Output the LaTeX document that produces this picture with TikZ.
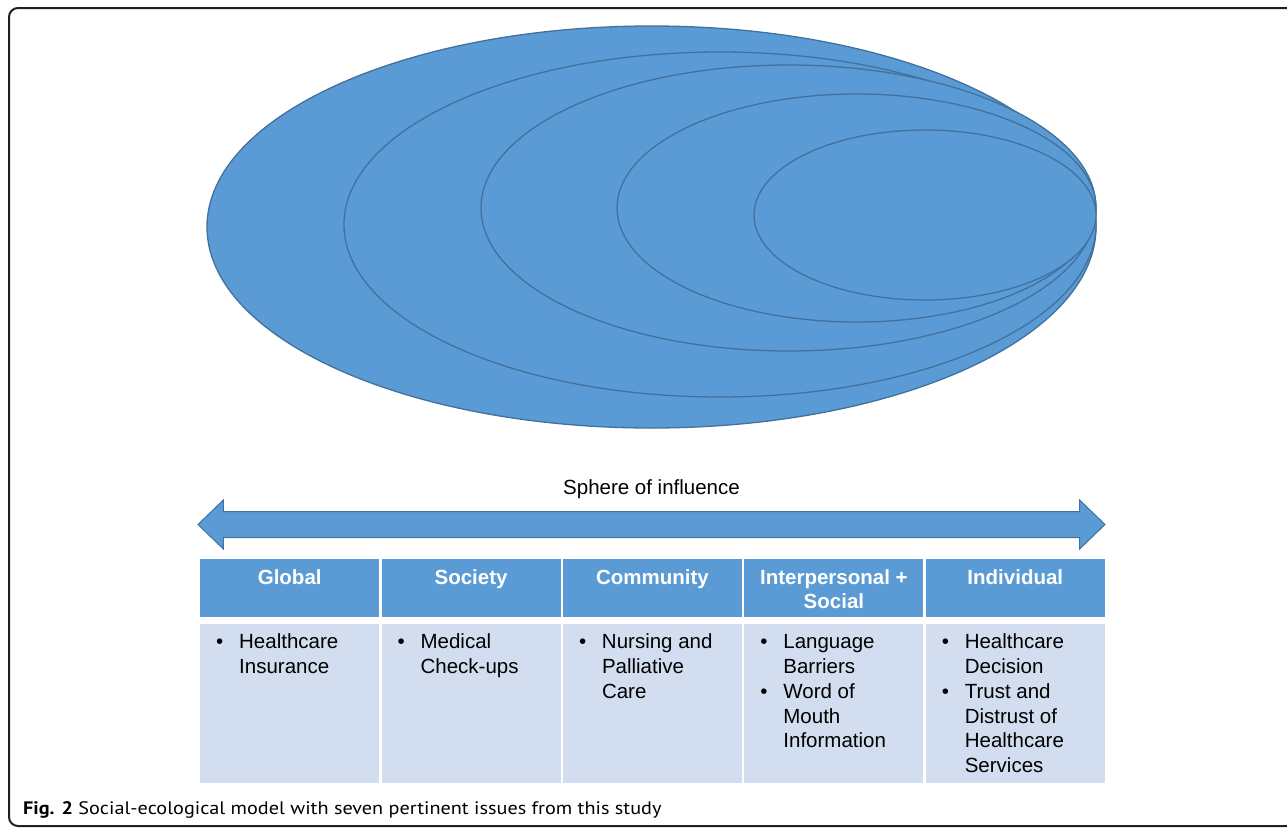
\documentclass[tikz,border=0pt]{standalone}
\usepackage{fontspec}
\setmainfont{Liberation Sans}
\newfontfamily\capfont{PT Sans}
\usetikzlibrary{shapes.geometric, shapes.arrows, positioning}

\definecolor{sebblue}{HTML}{5B9BD5}
\definecolor{sebedge}{HTML}{41719C}
\definecolor{sebpale}{HTML}{D2DEEF}
\definecolor{frameink}{HTML}{231F20}

\newcommand{\itm}[1]{\noindent\hangindent=23pt\hangafter=1\makebox[23pt][l]{\textbullet}#1\par}
\newcommand{\headtxt}[1]{\begin{minipage}[t][58pt][t]{171pt}\centering\rule{0pt}{25pt}#1\end{minipage}}
\newcommand{\bodytxt}[1]{\begin{minipage}[t][159pt][t]{147pt}\rule{0pt}{25pt}#1\end{minipage}}

\begin{document}
\begin{tikzpicture}[x=1pt, y=-1pt,
	ring/.style={ellipse, draw=sebedge, line width=1.3pt, fill=sebblue, inner sep=0pt},
	head/.style={fill=sebblue, text=white, font=\fontsize{20.5}{24}\selectfont\bfseries, inner xsep=4pt, inner ysep=0pt},
	body/.style={fill=sebpale, text=black, font=\fontsize{20.5}{24.8}\selectfont, inner xsep=16pt, inner ysep=0pt}]
	\useasboundingbox (0,0) rectangle (1287,828);
	\clip (0,0) rectangle (1287,828);
	\draw[frameink, line width=2pt, rounded corners=9pt] (9,8) rectangle (1330,826);

	% nested spheres
	\node[ring, minimum width=889, minimum height=402] (e1) at (651.5,227) {};
	\node[ring, minimum width=752, minimum height=345] (e2) at (720,224.5) {};
	\node[ring, minimum width=615, minimum height=286] (e3) at (788.5,208) {};
	\node[ring, minimum width=479, minimum height=228] (e4) at (856.5,208) {};
	\node[ring, minimum width=342, minimum height=170] (e5) at (925,215) {};

	\node[font=\fontsize{20.5}{24}\selectfont] (reachlabel) at (651.5,489) {Sphere of influence};
	\node[double arrow, fill=sebblue, draw=sebedge, line width=1pt, minimum height=907pt, minimum width=48pt,
		double arrow head extend=11.5pt, double arrow tip angle=88, inner xsep=0pt, inner ysep=12.5pt] (reach) at (651.5,524.5) {};

	% table
	\node[head, anchor=north west] (h1) at (200,559) {\headtxt{Global}};
	\node[head, right=2pt of h1] (h2) {\headtxt{Society}};
	\node[head, right=2pt of h2] (h3) {\headtxt{Community}};
	\node[head, right=2pt of h3] (h4) {\headtxt{Interpersonal +\\Social}};
	\node[head, right=2pt of h4] (h5) {\headtxt{Individual}};

	\node[body, below=6pt of h1] (b1) {\bodytxt{\itm{Healthcare\\Insurance}}};
	\node[body, below=6pt of h2] (b2) {\bodytxt{\itm{Medical\\Check-ups}}};
	\node[body, below=6pt of h3] (b3) {\bodytxt{\itm{Nursing and\\Palliative\\Care}}};
	\node[body, below=6pt of h4] (b4) {\bodytxt{\itm{Language\\Barriers}\itm{Word of\\Mouth\\Information}}};
	\node[body, below=6pt of h5] (b5) {\bodytxt{\itm{Healthcare\\Decision}\itm{Trust and\\Distrust of\\Healthcare\\Services}}};

	\node[anchor=base west, inner sep=0pt, font=\capfont\fontsize{18.1}{21}\selectfont] (caption) at (23,814)
		{\scalebox{1.117}[1]{\textbf{Fig. 2} Social-ecological model with seven pertinent issues from this study}};
\end{tikzpicture}
\end{document}
